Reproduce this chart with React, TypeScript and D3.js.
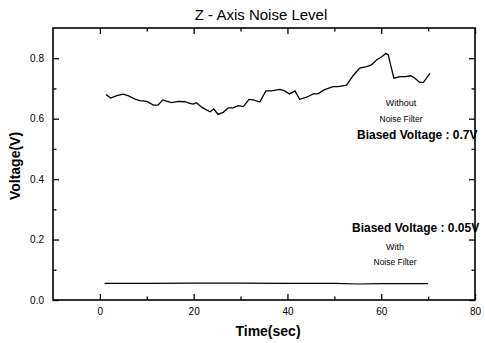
import React, { useEffect, useRef } from "react";
import * as d3 from "d3";

// time (s) and voltage (V)
const noTime = [1.3, 2.3, 3.6, 5, 6, 7.5, 8.5, 10, 11.4, 12.4, 13.4, 14.2, 15.3, 16.7, 18.1, 19.2, 19.9, 20.6, 21.7, 22.7, 23.5, 24.3, 25.2, 26.3, 27.4, 28.4, 29.5, 30.6, 31.8, 32.7, 34.1, 35.4, 36.6, 38.4, 39.4, 40.4, 41.6, 42.6, 44.1, 45.5, 46.5, 47.8, 49.7, 50.8, 52.6, 54, 55.4, 56.9, 57.9, 59, 60.1, 61, 61.5, 62, 62.7, 64, 65.2, 66.3, 67.2, 68.2, 69, 70.4];
const noVolt = [0.68, 0.668, 0.676, 0.681, 0.676, 0.665, 0.66, 0.657, 0.645, 0.645, 0.662, 0.658, 0.653, 0.657, 0.656, 0.651, 0.648, 0.653, 0.638, 0.629, 0.623, 0.632, 0.614, 0.621, 0.636, 0.636, 0.643, 0.64, 0.664, 0.662, 0.655, 0.692, 0.692, 0.697, 0.692, 0.682, 0.692, 0.664, 0.671, 0.682, 0.682, 0.695, 0.706, 0.706, 0.711, 0.742, 0.767, 0.772, 0.778, 0.794, 0.805, 0.816, 0.811, 0.778, 0.734, 0.739, 0.739, 0.742, 0.734, 0.72, 0.72, 0.75];

const withTime = [1, 10, 20, 30, 40, 50, 55, 60, 70];
const withVolt = [0.055, 0.055, 0.056, 0.056, 0.055, 0.055, 0.053, 0.054, 0.054];

const xMajor = [0, 20, 40, 60, 80];
const xMinor = [10, 30, 50, 70];
const yMajor = [0, 0.2, 0.4, 0.6, 0.8];
const yMinor = [0.1, 0.3, 0.5, 0.7];

const W = 485;
const H = 343;
const font = "Arial, 'Liberation Sans', sans-serif";

export default function App() {
  const ref = useRef<SVGSVGElement>(null);

  useEffect(() => {
    const svg = d3.select(ref.current);
    svg.selectAll("*").remove();

    const x = d3.scaleLinear().domain([-10, 80]).range([53, 475]);
    const y = d3.scaleLinear().domain([0, 0.9]).range([300, 28]);

    const styleAxis = (g: any) => {
      g.select(".domain").remove();
      g.selectAll("line").attr("stroke", "#000").attr("stroke-width", 1.3);
      g.selectAll("text").attr("font-family", font).attr("font-size", 10).attr("fill", "#000");
    };

    // bottom
    svg.append("g").attr("transform", "translate(0,300)")
      .call(d3.axisBottom(x).tickValues(xMajor).tickSize(-6).tickPadding(8).tickFormat(d3.format("d")))
      .call(styleAxis);
    svg.append("g").attr("transform", "translate(0,300)")
      .call(d3.axisBottom(x).tickValues(xMinor).tickSize(-3.5).tickFormat(() => ""))
      .call(styleAxis);
    // top
    svg.append("g").attr("transform", "translate(0,28)")
      .call(d3.axisTop(x).tickValues(xMajor).tickSize(-6).tickFormat(() => ""))
      .call(styleAxis);
    svg.append("g").attr("transform", "translate(0,28)")
      .call(d3.axisTop(x).tickValues(xMinor).tickSize(-3.5).tickFormat(() => ""))
      .call(styleAxis);
    // left
    svg.append("g").attr("transform", "translate(53,0)")
      .call(d3.axisLeft(y).tickValues(yMajor).tickSize(-6).tickPadding(9).tickFormat(d3.format(".1f")))
      .call(styleAxis);
    svg.append("g").attr("transform", "translate(53,0)")
      .call(d3.axisLeft(y).tickValues(yMinor).tickSize(-3.5).tickFormat(() => ""))
      .call(styleAxis);
    // right
    svg.append("g").attr("transform", "translate(475,0)")
      .call(d3.axisRight(y).tickValues(yMajor).tickSize(-6).tickFormat(() => ""))
      .call(styleAxis);
    svg.append("g").attr("transform", "translate(475,0)")
      .call(d3.axisRight(y).tickValues(yMinor).tickSize(-3.5).tickFormat(() => ""))
      .call(styleAxis);

    const line = d3.line<[number, number]>()
      .x((d) => x(d[0]))
      .y((d) => y(d[1]));

    svg.append("path")
      .datum(noTime.map((t, i) => [t, noVolt[i]] as [number, number]))
      .attr("d", line)
      .attr("fill", "none")
      .attr("stroke", "#000")
      .attr("stroke-width", 1.3);

    svg.append("path")
      .datum(withTime.map((t, i) => [t, withVolt[i]] as [number, number]))
      .attr("d", line)
      .attr("fill", "none")
      .attr("stroke", "#000")
      .attr("stroke-width", 1.2);

    // annotations
    const note = (tx: number, ty: number, s: string, size: number, bold: boolean, anchor = "middle") =>
      svg.append("text")
        .attr("x", tx).attr("y", ty)
        .attr("text-anchor", anchor)
        .attr("font-family", font)
        .attr("font-size", size)
        .attr("font-weight", bold ? "bold" : "normal")
        .attr("fill", "#000")
        .text(s);

    note(401, 106, "Without", 9, false);
    note(401, 122, "Noise Filter", 8.5, false);
    note(357, 139, "Biased Voltage : 0.7V", 12, true, "start");
    note(352, 232, "Biased Voltage : 0.05V", 12, true, "start");
    note(395, 250, "With", 9, false);
    note(395, 265, "Noise Filter", 8.5, false);

    // frame
    svg.append("rect")
      .attr("x", 53).attr("y", 28)
      .attr("width", 422).attr("height", 272)
      .attr("fill", "none")
      .attr("stroke", "#000")
      .attr("stroke-width", 1.6);

    note(261, 20, "Z - Axis Noise Level", 15, false);
    note(268, 336, "Time(sec)", 14, true);
    svg.append("text")
      .attr("transform", "translate(20,166) rotate(-90)")
      .attr("text-anchor", "middle")
      .attr("font-family", font)
      .attr("font-size", 14)
      .attr("font-weight", "bold")
      .text("Voltage(V)");
  }, []);

  return (
    <svg
      ref={ref}
      width={W}
      height={H}
      style={{ position: "absolute", left: 0, top: 0, background: "#fff" }}
    />
  );
}
